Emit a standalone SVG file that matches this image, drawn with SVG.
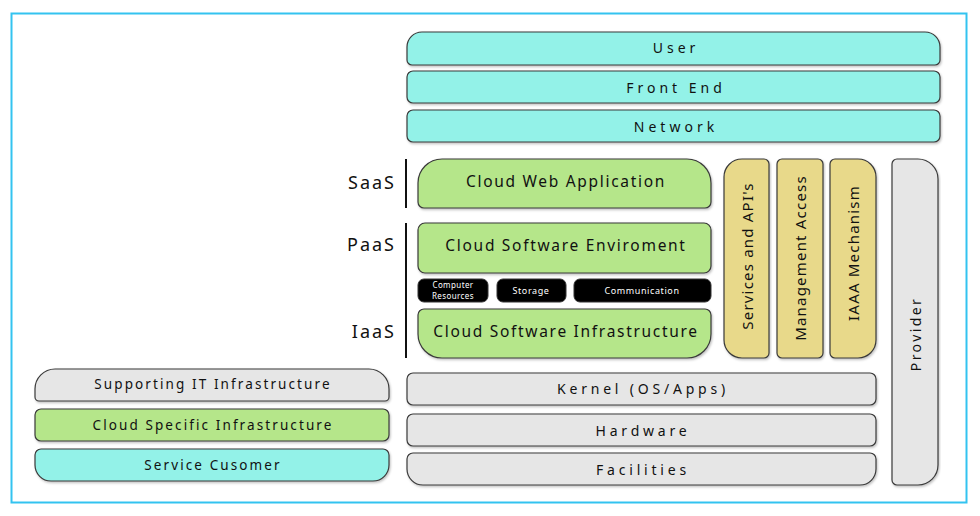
<svg xmlns="http://www.w3.org/2000/svg" width="980" height="516" viewBox="0 0 980 516">
<defs>
<filter id="sh" x="-5%" y="-5%" width="110%" height="120%">
<feDropShadow dx="1" dy="1.5" stdDeviation="1" flood-color="#000" flood-opacity="0.25"/>
</filter>
</defs>
<style>
.b{stroke:#3a3a3a;stroke-width:1.2;filter:url(#sh)}
.cy{fill:#93f2e8}
.gr{fill:#b5e68a}
.gy{fill:#e6e6e6}
.ye{fill:#e8d98a}
.bk{fill:#000;stroke:#333;stroke-width:1}
text{font-family:"Noto Sans","Liberation Sans",sans-serif;fill:#111;text-anchor:middle;dominant-baseline:central}
.t1{font-size:14px;letter-spacing:4px}
.t2{font-size:15.5px;letter-spacing:1.7px}
.t3{font-size:15px;letter-spacing:1.2px}
.tl{font-size:18px;letter-spacing:2px;text-anchor:end}
.tw{font-size:9px;fill:#fff;letter-spacing:0.6px}
.tws{font-size:8px;fill:#fff;letter-spacing:0.4px}
.tg{font-size:14px;letter-spacing:3.8px}
.tp{font-size:14px;letter-spacing:2.4px}
.ts{font-size:13.5px;letter-spacing:2.1px}
</style>
<rect x="11.5" y="13.5" width="955" height="489" fill="#fff" stroke="#33c3f0" stroke-width="2"/>

<g id="user"><path class="b cy" d="M422,32 H925 A15 15 0 0 1 940,47 V60 A5 5 0 0 1 935,65 H412 A5 5 0 0 1 407,60 V47 A15 15 0 0 1 422,32 Z"/><text class="t1" x="676" y="47">User</text></g>
<g id="frontend"><rect class="b cy" x="407" y="71" width="533" height="32" rx="6"/><text class="t1" x="676" y="87">Front End</text></g>
<g id="network"><rect class="b cy" x="407" y="110" width="533" height="32" rx="6"/><text class="t1" x="676" y="126">Network</text></g>

<g id="saas"><text class="tl" x="396" y="182">SaaS</text></g>
<g id="paas"><text class="tl" x="396" y="244">PaaS</text></g>
<g id="iaas"><text class="tl" x="396" y="331">IaaS</text></g>

<g id="webapp"><path class="b gr" d="M442,159 H687 A24 24 0 0 1 711,183 V202 A6 6 0 0 1 705,208 H424 A6 6 0 0 1 418,202 V183 A24 24 0 0 1 442,159 Z"/><text class="t2" x="566" y="181">Cloud Web Application</text></g>
<g id="env"><rect class="b gr" x="418" y="223" width="293" height="50" rx="7"/><text class="t2" x="566" y="245">Cloud Software Enviroment</text></g>
<g id="compres"><rect class="bk" x="418" y="279" width="70" height="23" rx="6"/><text class="tws" x="453" y="284.5">Computer</text><text class="tws" x="453" y="295.5">Resources</text></g>
<g id="storage"><rect class="bk" x="497" y="279" width="69" height="23" rx="6"/><text class="tw" x="531" y="290">Storage</text></g>
<g id="comm"><rect class="bk" x="574" y="279" width="137" height="23" rx="6"/><text class="tw" x="642" y="290">Communication</text></g>
<g id="infra"><path class="b gr" d="M424,309 H705 A6 6 0 0 1 711,315 V334 A24 24 0 0 1 687,358 H442 A24 24 0 0 1 418,334 V315 A6 6 0 0 1 424,309 Z"/><text class="t2" x="566" y="331">Cloud Software Infrastructure</text></g>

<g id="services"><path class="b ye" d="M742,159 H764 A5 5 0 0 1 769,164 V353 A5 5 0 0 1 764,358 H742 A18 18 0 0 1 724,340 V177 A18 18 0 0 1 742,159 Z"/><text class="t3" transform="translate(747,256) rotate(-90)">Services and API's</text></g>
<g id="mgmt"><rect class="b ye" x="777" y="159" width="46" height="199" rx="5"/><text class="t3" transform="translate(800,258) rotate(-90)">Management Access</text></g>
<g id="iaaa"><path class="b ye" d="M835,159 H858 A18 18 0 0 1 876,177 V340 A18 18 0 0 1 858,358 H835 A5 5 0 0 1 830,353 V164 A5 5 0 0 1 835,159 Z"/><text class="t3" transform="translate(853,253) rotate(-90)">IAAA Mechanism</text></g>
<g id="provider"><path class="b gy" d="M897,159 H918 A20 20 0 0 1 938,179 V465 A20 20 0 0 1 918,485 H897 A5 5 0 0 1 892,480 V164 A5 5 0 0 1 897,159 Z"/><text class="tp" transform="translate(915,334) rotate(-90)">Provider</text></g>

<g id="kernel"><rect class="b gy" x="407" y="373" width="469" height="32" rx="6"/><text class="tg" x="643" y="388">Kernel (OS/Apps)</text></g>
<g id="hardware"><rect class="b gy" x="407" y="414" width="469" height="32" rx="6"/><text class="tg" x="643" y="430">Hardware</text></g>
<g id="facilities"><path class="b gy" d="M413,453 H870 A6 6 0 0 1 876,459 V469 A16 16 0 0 1 860,485 H423 A16 16 0 0 1 407,469 V459 A6 6 0 0 1 413,453 Z"/><text class="tg" x="643" y="469">Facilities</text></g>

<g id="supporting"><path class="b gy" d="M55,369 H369 A20 20 0 0 1 389,389 V397 A4 4 0 0 1 385,401 H39 A4 4 0 0 1 35,397 V389 A20 20 0 0 1 55,369 Z"/><text class="ts" x="213" y="384">Supporting IT Infrastructure</text></g>
<g id="cloudspecific"><rect class="b gr" x="35" y="409" width="354" height="32" rx="6"/><text class="ts" x="213" y="425">Cloud Specific Infrastructure</text></g>
<g id="customer"><path class="b cy" d="M41,449 H383 A6 6 0 0 1 389,455 V465 A16 16 0 0 1 373,481 H51 A16 16 0 0 1 35,465 V455 A6 6 0 0 1 41,449 Z"/><text class="ts" x="213" y="465">Service Cusomer</text></g>

<g id="connectors">
<line x1="406" y1="159" x2="406" y2="208" stroke="#111" stroke-width="2"/>
<line x1="406" y1="223" x2="406" y2="358" stroke="#111" stroke-width="2"/>
</g>
</svg>
